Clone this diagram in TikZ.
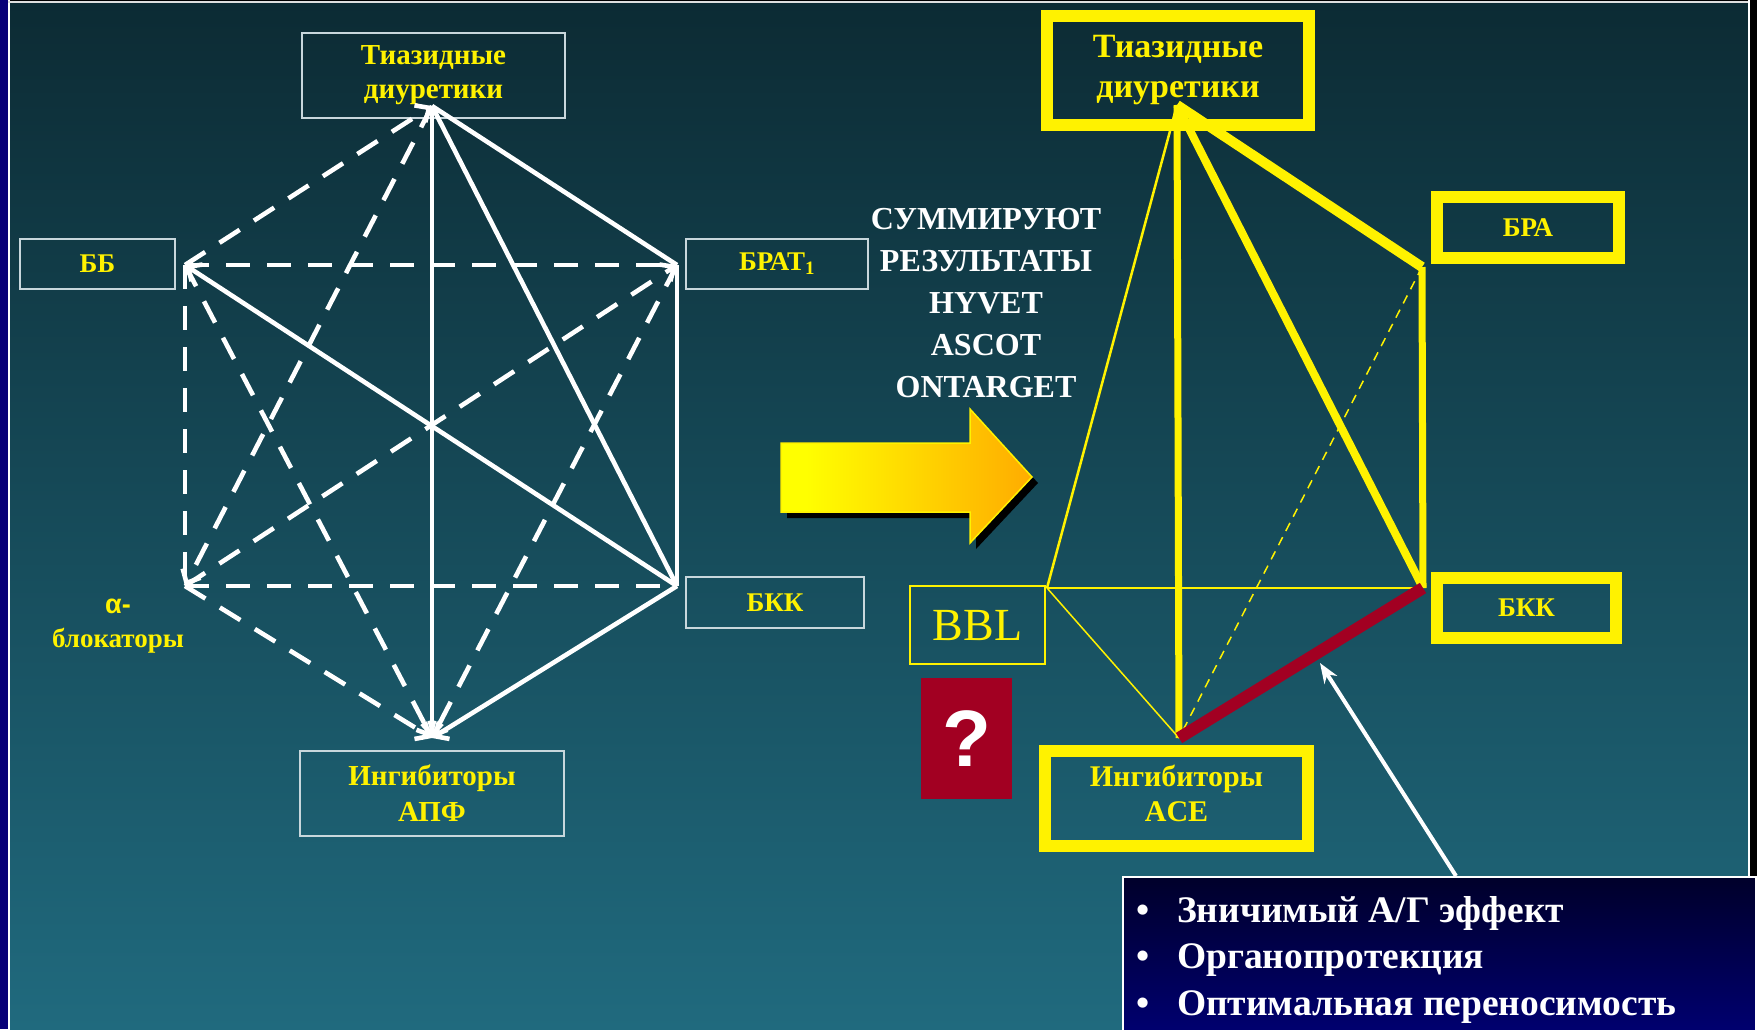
\documentclass[tikz,border=0pt]{standalone}
\usepackage{fontspec}
\setmainfont{Liberation Serif}
\newfontfamily\arialfont{Liberation Sans}
\usetikzlibrary{arrows.meta}
\definecolor{bgtop}{RGB}{12,43,52}
\definecolor{bgbot}{RGB}{32,106,126}
\definecolor{mynavy}{RGB}{8,0,120}
\definecolor{lbord}{RGB}{200,215,220}
\definecolor{qred}{RGB}{162,0,34}
\definecolor{arrorange}{RGB}{255,153,0}
\definecolor{boxtop}{RGB}{0,0,42}
\definecolor{boxbot}{RGB}{0,0,112}
\pgfdeclarehorizontalshading{arrsh}{100bp}{color(0bp)=(yellow); color(30bp)=(yellow); color(85bp)=(arrorange); color(100bp)=(arrorange)}
\newcommand\myfs[2]{\fontsize{#1}{#2}\selectfont}
\begin{document}
\begin{tikzpicture}[x=1pt,y=-1pt,
  lbox/.style={draw=lbord,line width=1.5pt,text=yellow,align=center,inner sep=0pt},
  ybox/.style={draw=yellow,line width=12pt,text=yellow,align=center,inner sep=0pt},
  wl/.style={draw=white,line width=4.6pt},
  wd/.style={wl,dash pattern=on 24pt off 17pt},
  tip/.style={-{Straight Barb[length=11pt,width=20pt]}},
  yl/.style={draw=yellow},
  bul/.style={anchor=base west,text=white,inner sep=0pt,font=\myfs{37.5}{44}\bfseries}
]
\useasboundingbox (0,0) rectangle (1757,1029);
% background
\fill[black] (0,0) rectangle (1757,1029);
\fill[mynavy] (0,0) rectangle (8,1029);
\fill[white] (8,0) rectangle (10,1029);
\shade[top color=bgtop,bottom color=bgbot] (10,2.5) rectangle (1748,1029);
\fill[white!75!gray] (8,0.5) rectangle (1750,2.5);
\fill[white] (1748,0) rectangle (1750,1029);

% ---------- left diagram ----------
\node[lbox,minimum width=263pt,minimum height=85pt,font=\myfs{29}{34}\bfseries] (lT) at (433.5,75.5) {Тиазидные\\диуретики};
\node[lbox,minimum width=155pt,minimum height=50pt,font=\myfs{27}{32}\bfseries] (lBB) at (97.5,264) {ББ};
\node[lbox,minimum width=182pt,minimum height=50pt,font=\myfs{27}{32}\bfseries] (lBR) at (777,264) {БРАТ\textsubscript{1}};
\node[lbox,minimum width=178pt,minimum height=51pt,font=\myfs{27}{32}\bfseries] (lBK) at (775,602.5) {БКК};
\node[lbox,minimum width=264pt,minimum height=85pt,font=\myfs{29}{36}\bfseries] (lI) at (432,793.5) {Ингибиторы\\АПФ};
\node[text=yellow,align=center,inner sep=0pt,font=\myfs{27}{34}\bfseries] (lAL) at (118,626) {{\arialfont α-}\\блокаторы};

\coordinate (vT) at (432,106);
\coordinate (vBB) at (185,265);
\coordinate (vBR) at (677,265);
\coordinate (vAL) at (185,586);
\coordinate (vBK) at (677,586);
\coordinate (vI) at (432,738);

\draw[wl] (vT) -- (vBR);
\draw[wl] (vT) -- (vBK);
\draw[wl,tip] (vT) -- (vI);
\draw[wl] (vBR) -- (vBK);
\draw[wl,tip] (vBK) -- (vI);
\draw[wl,tip] (vBK) -- (vBB);
\draw[wd,tip] (vBB) -- (vT);
\draw[wd,tip] (vT) -- (vAL);
\draw[wd] (vBB) -- (vBR);
\draw[wd] (vBB) -- (vAL);
\draw[wd,tip] (vBB) -- (vI);
\draw[wd,tip] (vAL) -- (vBR);
\draw[wd] (vAL) -- (vBK);
\draw[wd,tip] (vAL) -- (vI);
\draw[wd,tip] (vBR) -- (vI);

% ---------- middle ----------
\node[text=white,align=center,inner sep=0pt,font=\myfs{32}{42}\bfseries] (summ) at (986,303.5) {СУММИРУЮТ\\РЕЗУЛЬТАТЫ\\HYVET\\ASCOT\\ONTARGET};
\fill[black,shift={(6,6)}] (781,443) -- (970,443) -- (970,409) -- (1032,477) -- (970,543) -- (970,512) -- (781,512) -- cycle;
\path[shading=arrsh,draw=yellow,line width=1.5pt] (781,443) -- (970,443) -- (970,409) -- (1032,477) -- (970,543) -- (970,512) -- (781,512) -- cycle;

% ---------- right diagram ----------
\node[ybox,minimum width=262pt,minimum height=109pt,font=\myfs{34}{40}\bfseries] (rT) at (1178,70.5) {Тиазидные\\диуретики};
\node[ybox,minimum width=182pt,minimum height=61pt,font=\myfs{27}{32}\bfseries] (rBR) at (1528,227.5) {БРА};
\node[ybox,minimum width=179pt,minimum height=60pt,font=\myfs{27}{32}\bfseries] (rBK) at (1526.5,608) {БКК};
\node[ybox,minimum width=263pt,minimum height=95pt,font=\myfs{30}{35}\bfseries] (rI) at (1176.5,798.5) {Ингибиторы\\ACE\strut};
\node[draw=yellow,line width=2.5pt,minimum width=135pt,minimum height=78pt,inner sep=0pt,text=yellow,font=\myfs{46}{50}] (bbl) at (977.5,625) {BBL};
\node[fill=qred,minimum width=91pt,minimum height=121pt,inner sep=0pt,text=white,font=\arialfont\bfseries\myfs{80}{90}] (q) at (966.5,738.5) {?};

\coordinate (rvT) at (1177,105);
\coordinate (rvBR) at (1422,267);
\coordinate (rvBK) at (1423,588);
\coordinate (rvBB) at (1047,588);
\coordinate (rvI) at (1179,738);

\draw[yl,line width=2.5pt] (rvT) -- (rvBB);
\draw[yl,line width=2pt] (rvBB) -- (rvBK);
\draw[yl,line width=1.5pt] (rvBB) -- (rvI);
\draw[yl,line width=1.5pt,dash pattern=on 9pt off 7pt] (rvBR) -- (rvI);
\draw[yl,line width=7pt] (rvT) -- (rvI);
\draw[yl,line width=8pt] (rvT) -- (rvBK);
\draw[yl,line width=10pt] (rvT) -- (rvBR);
\draw[yl,line width=7pt] (rvBR) -- (rvBK);
\draw[qred,line width=12pt] (rvBK) -- (rvI);

% ---------- bullet box ----------
\node[draw=white,line width=2pt,top color=boxtop,bottom color=boxbot,minimum width=633pt,minimum height=156pt,inner sep=0pt] (bulbox) at (1439.5,954.5) {};
\node[bul] (b1) at (1136,922) {\makebox[41pt][l]{•}Зничимый А/Г эффект};
\node[bul] (b2) at (1136,968) {\makebox[41pt][l]{•}Органопротекция};
\node[bul] (b3) at (1136,1015) {\makebox[41pt][l]{•}Оптимальная переносимость};
\coordinate (astart) at (1456,876);
\coordinate (atip) at (1320,663);
\draw[white,line width=4pt,-{Stealth[length=20pt,width=15pt]}] (astart) -- (atip);
\end{tikzpicture}
\end{document}
